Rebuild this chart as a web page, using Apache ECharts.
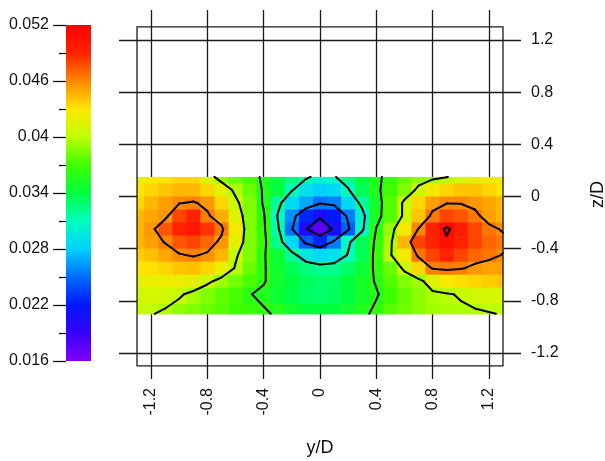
<!DOCTYPE html>
<html>
<head>
<meta charset="utf-8" />
<title>y/D - z/D contour</title>
<script src="https://cdn.jsdelivr.net/npm/echarts@6/dist/echarts.min.js"></script>
<style>
  html, body { margin: 0; padding: 0; background: #fff; }
  #main { width: 605px; height: 461px; }
</style>
</head>
<body>
<div id="main"></div>
<script>
// sample nodes of the measured field
var yD = [-1.3, -1.2, -1.1, -1.0, -0.9, -0.8, -0.7, -0.6, -0.5, -0.4, -0.3, -0.2, -0.1, 0,
          0.1, 0.2, 0.3, 0.4, 0.5, 0.6, 0.7, 0.8, 0.9, 1.0, 1.1, 1.2, 1.3];
var zD = [0.15, 0.05, -0.05, -0.15, -0.25, -0.35, -0.45, -0.55, -0.65, -0.75, -0.9];

// one row of values per z/D
var v015 = [.042,.0425,.043,.0435,.0435,.041,.039,.038,.0372,.0355,.034,.0325,.0314,.0302,.0308,.0322,.034,.0356,.0366,.038,.039,.0394,.0399,.041,.042,.0425,.0425];
var v005 = [.043,.0435,.044,.0445,.0445,.0435,.0415,.0395,.038,.0357,.034,.0312,.029,.028,.0285,.0308,.0335,.0356,.037,.0385,.0405,.0425,.0435,.044,.044,.0435,.043];
var vm005 = [.0435,.0445,.0452,.0459,.0462,.0455,.0435,.0405,.0385,.0357,.0318,.0285,.0268,.0252,.0256,.0285,.0318,.035,.0375,.0405,.0435,.0452,.0459,.0459,.0455,.045,.0445];
var vm015 = [.0445,.045,.0455,.048,.049,.0463,.0448,.0415,.0385,.0363,.0308,.026,.0225,.0205,.022,.0255,.030,.0352,.0375,.0405,.044,.0465,.048,.0475,.0465,.0452,.0445];
var vm025 = [.0445,.0455,.0475,.049,.050,.0485,.0465,.0425,.0385,.0365,.0315,.0252,.0202,.0175,.0205,.0245,.0305,.0361,.039,.0425,.0461,.049,.0515,.0495,.048,.0465,.0458];
var vm035 = [.0445,.0452,.0461,.0475,.048,.047,.0455,.0418,.0385,.0368,.0322,.0285,.0245,.0225,.0255,.0305,.0335,.0365,.0395,.0445,.048,.049,.0505,.049,.048,.047,.0465];
var vm045 = [.0438,.0442,.045,.0458,.0462,.0457,.0445,.0403,.0385,.0362,.0345,.0318,.0295,.0285,.029,.0312,.0335,.0368,.0398,.0425,.0465,.048,.049,.048,.047,.0465,.0459];
var vm055 = [.043,.0432,.0435,.044,.0442,.0435,.042,.0398,.038,.0362,.0348,.0335,.0325,.032,.0322,.033,.0345,.0365,.038,.0405,.0435,.0462,.0465,.0462,.0455,.0452,.0452];
var vm065 = [.0418,.042,.0422,.0422,.0418,.0405,.0392,.0382,.0372,.0362,.0348,.034,.0333,.033,.0332,.034,.035,.0362,.0375,.0385,.0392,.0415,.0428,.0432,.0435,.0438,.044];
var vm075 = [.0408,.041,.0408,.0403,.0394,.0385,.0378,.0372,.0361,.0355,.0345,.0338,.0332,.033,.0333,.034,.035,.0358,.037,.038,.0388,.0395,.0398,.0402,.0408,.041,.0412];
var vm09 = [.0402,.0401,.0397,.039,.0385,.038,.0375,.037,.0367,.0363,.0357,.0348,.0342,.034,.0342,.0348,.0355,.0365,.0375,.0382,.0388,.0393,.0395,.0396,.0397,.0399,.0401];
var heatRows = [v015, v005, vm005, vm015, vm025, vm035, vm045, vm055, vm065, vm075, vm09];

var levels = [0.020, 0.025, 0.031, 0.036, 0.040, 0.046, 0.051];

var xTicks = [-1.2, -0.8, -0.4, 0, 0.4, 0.8, 1.2];
var xTickLabels = ['-1.2', '-0.8', '-0.4', '0', '0.4', '0.8', '1.2'];
var yTicks = [-1.2, -0.8, -0.4, 0, 0.4, 0.8, 1.2];
var yTickLabels = ['-1.2', '-0.8', '-0.4', '0', '0.4', '0.8', '1.2'];
var cbTicks = [0.016, 0.022, 0.028, 0.034, 0.040, 0.046, 0.052];
var cbTickLabels = ['0.016', '0.022', '0.028', '0.034', '0.04', '0.046', '0.052'];
var cbMinor = [0.019, 0.025, 0.031, 0.037, 0.043, 0.049];
var cbRange = [0.016, 0.052];
var frame = [-1.3, 1.3];

var cbColors = ['#8000ff', '#3600ff', '#0018ff', '#006cff', '#00d1ff', '#00ffbd', '#00ff3f',
                '#3eff00', '#bfff00', '#ffe600', '#ff8700', '#ff2200', '#ff0000'];

function fmt(vals, labels) {
  return function (v) {
    for (var i = 0; i < vals.length; i++) {
      if (Math.abs(vals[i] - v) < 1e-9) return labels[i];
    }
    return '';
  };
}

// cell borders halfway between nodes
function edges(a) {
  var e = [a[0]];
  for (var i = 1; i < a.length; i++) e.push((a[i - 1] + a[i]) / 2);
  e.push(a[a.length - 1]);
  return e;
}
var xe = edges(yD), ze = edges(zD);

var heatData = [];
for (var r = 0; r < zD.length; r++) {
  for (var c = 0; c < yD.length; c++) {
    heatData.push([yD[c], zD[r], heatRows[r][c], xe[c], xe[c + 1], ze[r], ze[r + 1]]);
  }
}

// marching squares on the node grid
function cross(p, q, a, b, L) {
  var t = (L - a) / (b - a);
  return [p[0] + (q[0] - p[0]) * t, p[1] + (q[1] - p[1]) * t];
}
var segs = [];
levels.forEach(function (L) {
  for (var r = 0; r < zD.length - 1; r++) {
    for (var c = 0; c < yD.length - 1; c++) {
      var P = [[yD[c], zD[r]], [yD[c + 1], zD[r]], [yD[c + 1], zD[r + 1]], [yD[c], zD[r + 1]]];
      var V = [heatRows[r][c], heatRows[r][c + 1], heatRows[r + 1][c + 1], heatRows[r + 1][c]];
      var ins = V.map(function (v) { return v >= L; });
      var pts = [];
      for (var e = 0; e < 4; e++) {
        var b = (e + 1) % 4;
        if (ins[e] !== ins[b]) pts.push(cross(P[e], P[b], V[e], V[b], L));
      }
      if (pts.length === 2) {
        segs.push([pts[0][0], pts[0][1], pts[1][0], pts[1][1]]);
      } else if (pts.length === 4) {
        if (ins[0]) {
          segs.push([pts[0][0], pts[0][1], pts[3][0], pts[3][1]]);
          segs.push([pts[1][0], pts[1][1], pts[2][0], pts[2][1]]);
        } else {
          segs.push([pts[0][0], pts[0][1], pts[1][0], pts[1][1]]);
          segs.push([pts[2][0], pts[2][1], pts[3][0], pts[3][1]]);
        }
      }
    }
  }
});

var chart = echarts.init(document.getElementById('main'));
var font = 'Liberation Sans, Arial, sans-serif';
var ink = '#111';

// colour bar gradient: offset 0 is the top (max value)
var barStops = cbColors.map(function (col, i) {
  return { offset: 1 - i / (cbColors.length - 1), color: col };
}).sort(function (p, q) { return p.offset - q.offset; });

var option = {
  animation: false,
  textStyle: { fontFamily: font },
  grid: [
    { left: 119, right: 84, top: 10, bottom: 82, outerBoundsMode: 'none' },
    { left: 66, top: 25, width: 25, height: 336, outerBoundsMode: 'none' }
  ],
  xAxis: [
    {
      gridIndex: 0, type: 'value', min: -1.428, max: 1.428, position: 'bottom',
      axisLine: { show: false },
      axisTick: { show: false, customValues: xTicks },
      axisLabel: { customValues: xTicks, rotate: 90, margin: 9, fontSize: 16, color: ink,
                   formatter: fmt(xTicks, xTickLabels) },
      splitLine: { show: true, lineStyle: { color: '#1a1a1a', width: 1.3 } },
      name: 'y/D', nameLocation: 'middle', nameGap: 60,
      nameTextStyle: { fontSize: 18, color: ink }
    },
    { gridIndex: 1, type: 'value', min: 0, max: 1, show: false }
  ],
  yAxis: [
    {
      gridIndex: 0, type: 'value', min: -1.40, max: 1.43, position: 'right',
      axisLine: { show: false },
      axisTick: { show: false, customValues: yTicks },
      axisLabel: { customValues: yTicks, margin: 10, fontSize: 16, color: ink,
                   formatter: fmt(yTicks, yTickLabels) },
      splitLine: { show: true, lineStyle: { color: '#1a1a1a', width: 1.3 } },
      name: 'z/D', nameLocation: 'middle', nameRotate: 90, nameGap: 68,
      nameTextStyle: { fontSize: 18, color: ink }
    },
    {
      gridIndex: 1, type: 'value', min: cbRange[0], max: cbRange[1], position: 'left',
      axisLine: { show: false },
      axisTick: { show: true, length: 13, customValues: cbTicks, lineStyle: { color: ink, width: 1.3 } },
      axisLabel: { customValues: cbTicks, margin: 17, fontSize: 16, color: ink,
                   formatter: fmt(cbTicks, cbTickLabels) },
      splitLine: { show: false }
    },
    {
      gridIndex: 1, type: 'value', min: cbRange[0], max: cbRange[1], position: 'left',
      axisLine: { show: false },
      axisTick: { show: true, length: 7, customValues: cbMinor, lineStyle: { color: ink, width: 1.3 } },
      axisLabel: { show: false },
      splitLine: { show: false }
    }
  ],
  visualMap: {
    type: 'continuous', show: false, min: cbRange[0], max: cbRange[1], dimension: 2, seriesIndex: 0,
    inRange: { color: cbColors }
  },
  series: [
    {
      type: 'custom', name: 'field', xAxisIndex: 0, yAxisIndex: 0,
      data: heatData,
      renderItem: function (params, api) {
        var p0 = api.coord([api.value(3), api.value(5)]);
        var p1 = api.coord([api.value(4), api.value(6)]);
        var x = Math.min(p0[0], p1[0]), y = Math.min(p0[1], p1[1]);
        return {
          type: 'rect',
          shape: { x: x, y: y, width: Math.abs(p1[0] - p0[0]) + 0.6, height: Math.abs(p1[1] - p0[1]) + 0.6 },
          style: { fill: api.visual('color') }
        };
      },
      z: 2
    },
    {
      type: 'custom', name: 'contours', xAxisIndex: 0, yAxisIndex: 0,
      data: segs,
      encode: { x: [0, 2], y: [1, 3] },
      renderItem: function (params, api) {
        var a = api.coord([api.value(0), api.value(1)]);
        var b = api.coord([api.value(2), api.value(3)]);
        return {
          type: 'line',
          shape: { x1: a[0], y1: a[1], x2: b[0], y2: b[1] },
          style: { stroke: '#000', lineWidth: 2, lineCap: 'round' }
        };
      },
      z: 3
    },
    {
      type: 'custom', name: 'frame', xAxisIndex: 0, yAxisIndex: 0,
      data: [[frame[0], frame[1], frame[1], frame[0]]],
      encode: { x: [0, 2], y: [1, 3] },
      renderItem: function (params, api) {
        var a = api.coord([api.value(0), api.value(1)]);
        var b = api.coord([api.value(2), api.value(3)]);
        return {
          type: 'rect',
          shape: { x: a[0], y: a[1], width: b[0] - a[0], height: b[1] - a[1] },
          style: { fill: 'none', stroke: '#1a1a1a', lineWidth: 1.3 }
        };
      },
      z: 4
    },
    {
      type: 'custom', name: 'colorbar', xAxisIndex: 1, yAxisIndex: 1,
      data: [[0, cbRange[1], 1, cbRange[0]]],
      encode: { x: [0, 2], y: [1, 3] },
      renderItem: function (params, api) {
        var a = api.coord([api.value(0), api.value(1)]);
        var b = api.coord([api.value(2), api.value(3)]);
        return {
          type: 'rect',
          shape: { x: a[0], y: a[1], width: b[0] - a[0], height: b[1] - a[1] },
          style: { fill: new echarts.graphic.LinearGradient(0, 0, 0, 1, barStops) }
        };
      },
      z: 2
    }
  ]
};

chart.setOption(option);
window.addEventListener('resize', chart.resize);
</script>
</body>
</html>
